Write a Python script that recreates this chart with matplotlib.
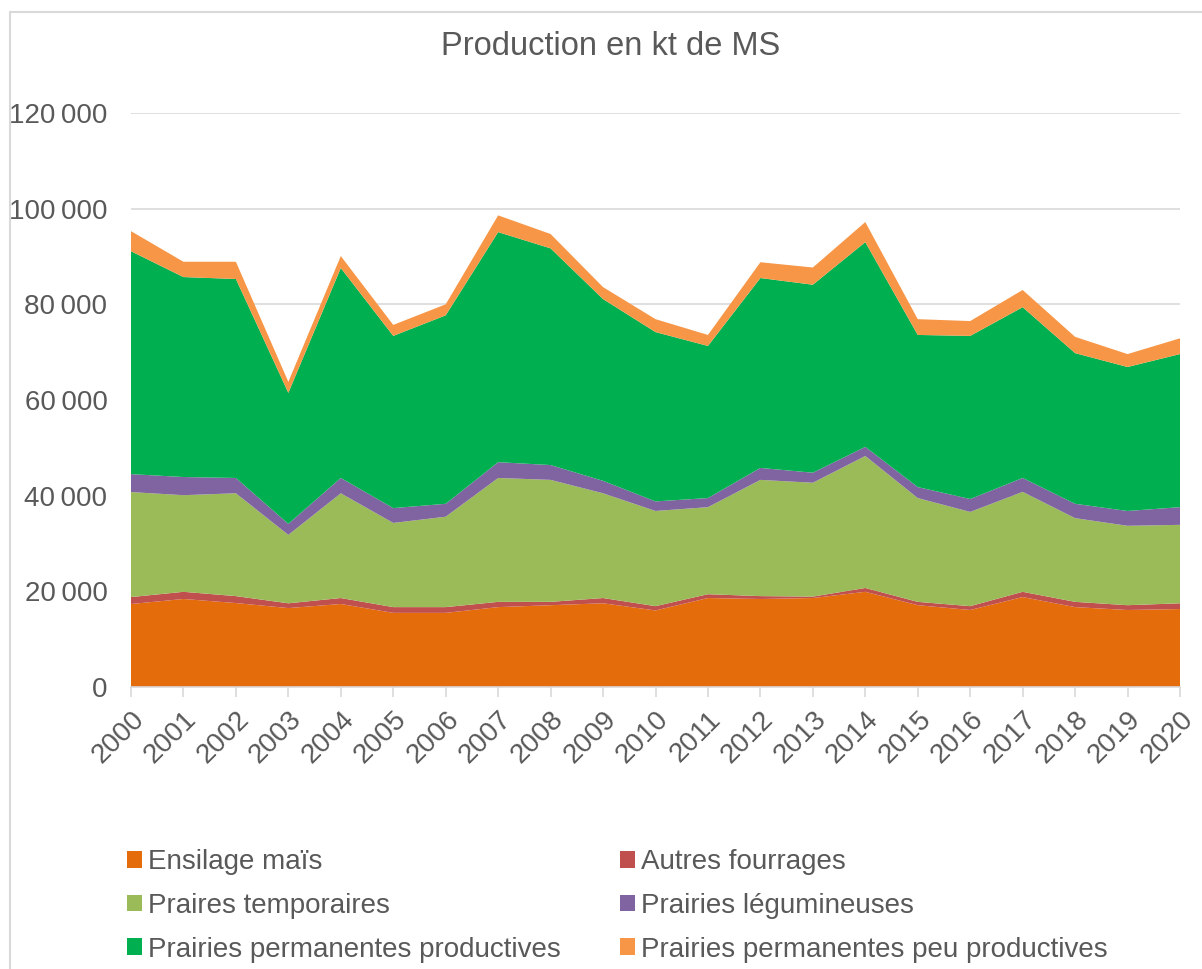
import numpy as np
import matplotlib
matplotlib.use("Agg")
from matplotlib import pyplot as plt
from matplotlib.patches import Patch, Rectangle
from matplotlib.ticker import FuncFormatter

plt.rcParams["font.family"] = ["Liberation Sans", "DejaVu Sans"]

years = np.arange(2000, 2021)

# kt de matière sèche
ensilage_mais = [17350, 18400, 17550, 16500, 17350, 15500, 15500, 16700, 17100, 17500, 16000,
                 18600, 18400, 18600, 19900, 17100, 16100, 18800, 16700, 16100, 16300]
autres_fourrages = [1450, 1500, 1450, 1000, 1250, 1200, 1200, 1100, 700, 1100, 900,
                    800, 600, 300, 800, 700, 800, 1100, 1100, 1000, 1200]
prairies_temporaires = [21950, 20200, 21500, 14300, 21900, 17600, 18900, 25900, 25500, 21900, 19900,
                        18200, 24300, 23800, 27600, 21700, 19700, 20900, 17500, 16600, 16400]
prairies_legumineuses = [3750, 3800, 3200, 2300, 3200, 3100, 2700, 3300, 3100, 2600, 2000,
                         1900, 2500, 2100, 1900, 2300, 2700, 2900, 3000, 3100, 3700]
prairies_perm_prod = [46600, 41800, 41600, 27400, 43900, 36000, 39400, 48100, 45300, 38000, 35400,
                      31800, 39700, 39300, 42800, 31800, 34100, 35700, 31500, 30100, 32000]
prairies_perm_peu = [4200, 3200, 3600, 2300, 2500, 2300, 2300, 3500, 3000, 2500, 2700,
                     2300, 3300, 3600, 4200, 3300, 3100, 3600, 3400, 2700, 3300]

labels = ["Ensilage maïs", "Autres fourrages", "Praires temporaires",
          "Prairies légumineuses", "Prairies permanentes productives",
          "Prairies permanentes peu productives"]
colors = ["#E46C0A", "#C0504D", "#9BBB59", "#8064A2", "#00B050", "#F79646"]
series = [ensilage_mais, autres_fourrages, prairies_temporaires,
          prairies_legumineuses, prairies_perm_prod, prairies_perm_peu]

TXT = "#595959"
GRID = "#D9D9D9"

fig = plt.figure(figsize=(12.02, 9.69), dpi=100)
ax = fig.add_axes([131 / 1202, 1 - 687 / 969, 1049 / 1202, 574 / 969])

ax.stackplot(years, *series, colors=colors, lw=0)

ax.set_xlim(2000, 2020)
ax.set_ylim(0, 120000)
ax.set_yticks(np.arange(0, 120001, 20000))
ax.yaxis.set_major_formatter(FuncFormatter(lambda v, _: f"{int(v):,}".replace(",", "\u2009")))
ax.set_xticks(years)
ax.set_xticklabels([str(y) for y in years], rotation=45, ha="right",
                   rotation_mode="anchor")
ax.grid(axis="y", color=GRID, lw=1.2)
ax.set_axisbelow(True)
for s in ["top", "right", "left"]:
    ax.spines[s].set_visible(False)
ax.spines["bottom"].set_color(GRID)
ax.spines["bottom"].set_linewidth(1.2)
ax.tick_params(axis="y", length=0, pad=17, labelsize=20, labelcolor=TXT)
ax.tick_params(axis="x", length=7, width=1.2, color=GRID, pad=7,
               labelsize=20, labelcolor=TXT)

fig.text(611 / 1202, 1 - 55 / 969, "Production en kt de MS", ha="center",
         va="baseline", fontsize=23.5, color=TXT)

# legend in two columns, filled column-wise
order = [0, 2, 4, 1, 3, 5]
handles = [Patch(facecolor=colors[i], edgecolor="none") for i in order]
leg = fig.legend(handles, [labels[i] for i in order], ncol=2, loc="upper left",
                 bbox_to_anchor=(127 / 1202, 1 - 849 / 969), frameon=False,
                 fontsize=20, handlelength=0.55, handleheight=0.55,
                 handletextpad=0.22, columnspacing=2.12, labelspacing=0.64,
                 borderpad=0, borderaxespad=0)
for t in leg.get_texts():
    t.set_color(TXT)

# outer chart frame
fig.patches.append(Rectangle((10 / 1202, -0.1), 1.2, 1 - 12 / 969 + 0.1,
                             transform=fig.transFigure, fill=False,
                             edgecolor=GRID, lw=1.5))

fig.savefig("out.png", dpi=100)
